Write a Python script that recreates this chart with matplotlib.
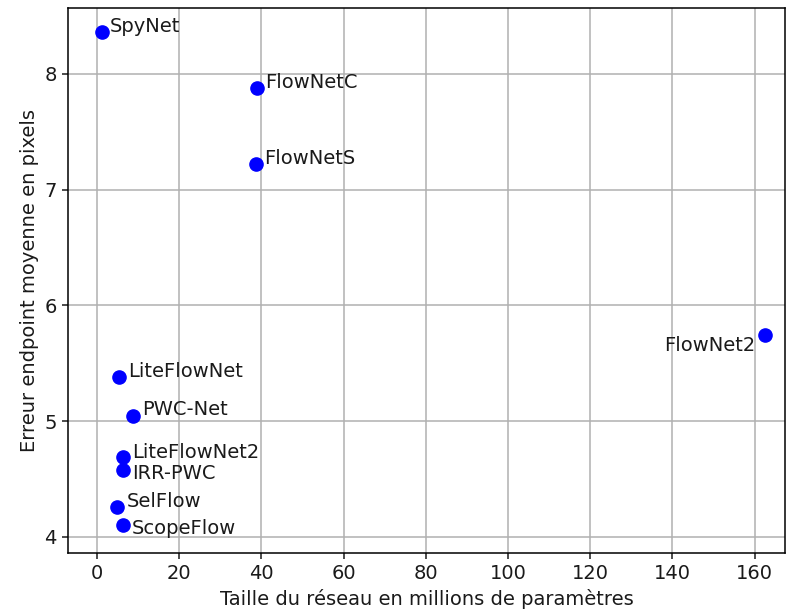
import matplotlib
matplotlib.use("Agg")
from matplotlib import pyplot as plt

# noms des réseaux, taille (millions de paramètres), EPE moyen
noms = ['SpyNet', 'FlowNetC', 'FlowNetS', 'FlowNet2', 'LiteFlowNet', 'PWC-Net',
        'LiteFlowNet2', 'IRR-PWC', 'SelFlow', 'ScopeFlow']
taille = [1.2, 38.9, 38.7, 162.5, 5.37, 8.75, 6.42, 6.36, 4.79, 6.36]
erreur = [8.36, 7.88, 7.22, 5.74, 5.38, 5.04, 4.69, 4.58, 4.26, 4.10]

# décalage des étiquettes (points) et alignement horizontal
decalages = [(6, 0), (6, 0), (6, 0), (-7, -11.5), (6.5, 0), (6.5, 1),
             (6.5, -0.5), (6.5, -7), (7, 0), (6.5, -6.5)]
alignements = ['left', 'left', 'left', 'right', 'left', 'left',
               'left', 'left', 'left', 'left']

plt.rcParams['font.size'] = 14

fig = plt.figure(figsize=(7.86, 6.15), dpi=100)
ax = fig.add_subplot(111)
fig.subplots_adjust(left=0.0865, right=0.9987, top=0.987, bottom=0.101)

ax.plot(taille, erreur, 'bo', markersize=9.5, zorder=3)
for nom, x, y, d, ha in zip(noms, taille, erreur, decalages, alignements):
    ax.annotate(nom, (x, y), xytext=d, textcoords='offset points',
                ha=ha, va='baseline', color='#1a1a1a')

ax.set_xlim(-7.05, 167.4)
ax.set_ylim(3.86, 8.57)
ax.set_xticks(range(0, 161, 20))
ax.set_yticks([4, 5, 6, 7, 8])
ax.grid(True, color='#b0b0b0', linewidth=1.1)
ax.set_axisbelow(True)
ax.tick_params(length=4.5, width=1.1, colors='#1a1a1a')
for s in ax.spines.values():
    s.set_linewidth(1.1)

ax.set_xlabel("Taille du réseau en millions de paramètres", color='#1a1a1a')
ax.set_ylabel("Erreur endpoint moyenne en pixels", color='#1a1a1a')

plt.savefig('out.png', dpi=100)
